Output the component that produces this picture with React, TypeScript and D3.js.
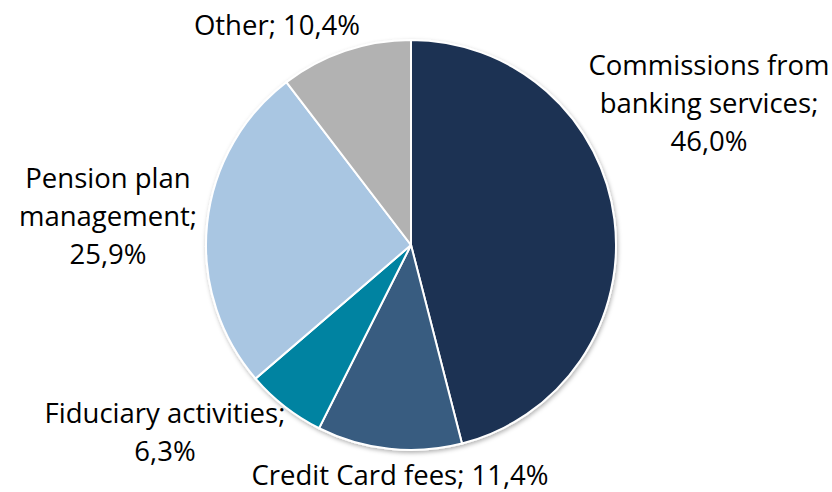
import React from 'react';
import * as d3 from 'd3';

const categories = [
  'Commissions from banking services',
  'Credit Card fees',
  'Fiduciary activities',
  'Pension plan management',
  'Other',
];
const shares = [46.0, 11.4, 6.3, 25.9, 10.4];
const colors = ['#1b3152', '#375c80', '#0083a1', '#a9c6e2', '#b2b2b2'];

// label lines as Excel wrapped them, and where each block sits (center x, first line center y)
const labelLines = [
  ['Commissions from', 'banking services;', '46,0%'],
  ['Credit Card fees; 11,4%'],
  ['Fiduciary activities;', '6,3%'],
  ['Pension plan', 'management;', '25,9%'],
  ['Other; 10,4%'],
];
const labelPos = [
  [709, 64],
  [400, 474],
  [165, 412],
  [108, 177],
  [277, 24],
];

const W = 832;
const H = 492;
const cx = 411;
const cy = 245;
const r = 205;
const lineH = 38;

const App: React.FC = () => {
  const pie = d3.pie<number>().sort(null).value((d) => d);
  const arcs = pie(shares);
  const arc = d3.arc<d3.PieArcDatum<number>>().innerRadius(0).outerRadius(r);

  return (
    <svg width={W} height={H} style={{ position: 'absolute', left: 0, top: 0, background: '#fff' }}>
      <defs>
        <filter id="sh" x="-10%" y="-10%" width="120%" height="120%">
          <feDropShadow dx="1" dy="2" stdDeviation="2" floodColor="#000" floodOpacity="0.3" />
        </filter>
      </defs>
      <g transform={`translate(${cx},${cy})`} filter="url(#sh)">
        {arcs.map((a, i) => (
          <path key={categories[i]} d={arc(a) || ''} fill={colors[i]} stroke="#fff" strokeWidth={2} />
        ))}
      </g>
      <g fontFamily="'Open Sans', sans-serif" fontSize={27.5} fill="#000" textAnchor="middle">
        {labelLines.map((lines, i) => (
          <text key={i} x={labelPos[i][0]} y={labelPos[i][1]} dominantBaseline="central">
            {lines.map((l, j) => (
              <tspan key={j} x={labelPos[i][0]} dy={j === 0 ? 0 : lineH}>
                {l}
              </tspan>
            ))}
          </text>
        ))}
      </g>
    </svg>
  );
};

export default App;
